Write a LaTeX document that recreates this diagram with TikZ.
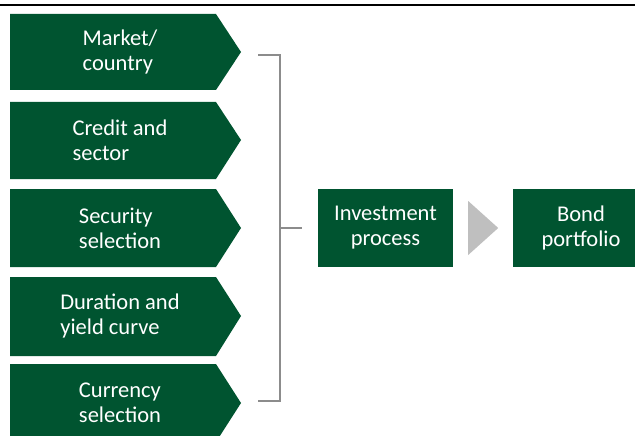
\documentclass[tikz,border=0pt]{standalone}
\usepackage{fontspec}
\setmainfont{Carlito}
\usetikzlibrary{calc,positioning}
\definecolor{bondgreen}{RGB}{0,84,48}
\definecolor{bracketgray}{RGB}{140,140,140}
\definecolor{arrowgray}{RGB}{191,191,191}

\begin{document}
\begin{tikzpicture}[x=1pt,y=-1pt,
  chevtext/.style={text=white,font=\fontsize{22.5}{25}\selectfont,align=left,inner sep=0pt},
  greenbox/.style={fill=bondgreen,text=white,font=\fontsize{22.5}{25}\selectfont,align=center,
    minimum width=135pt,minimum height=78pt,inner sep=0pt}]

\useasboundingbox (0,0) rectangle (635,436);

\draw[black,line width=2pt] (0,5) -- (635,5);

% input chevrons
\fill[bondgreen] (10,14) -- (216,14) -- (241,52) -- (216,90) -- (10,90) -- cycle;
\fill[bondgreen] (10,102) -- (216,102) -- (241,140) -- (216,179) -- (10,179) -- cycle;
\fill[bondgreen] (10,189) -- (216,189) -- (241,228) -- (216,267) -- (10,267) -- cycle;
\fill[bondgreen] (10,277) -- (216,277) -- (241,316) -- (216,356) -- (10,356) -- cycle;
\fill[bondgreen] (10,364) -- (216,364) -- (241,403) -- (216,442) -- (10,442) -- cycle;

\node[chevtext] (market) at (120,52) {Market/\\country};
\node[chevtext] (credit) at (120,140) {Credit and\\sector};
\node[chevtext] (security) at (120,228) {Security\\selection};
\node[chevtext] (duration) at (120,316) {Duration and\\yield curve};
\node[chevtext] (currency) at (120,403) {Currency\\selection};

% bracket
\coordinate (brktop) at (280,55);
\coordinate (brkbot) at (280,401);
\coordinate (brkmid) at (280,228);
\draw[bracketgray,line width=1.5pt] ($(brktop)+(-22,0)$) -- (brktop) -- (brkbot) -- ($(brkbot)+(-22,0)$);

% process and result
\node[greenbox] (invest) at (385.5,228) {Investment\\process};
\node[greenbox,minimum width=136pt] (bond) at (581,228) {Bond\\portfolio};

\draw[bracketgray,line width=1.5pt] (brkmid) -- ([xshift=-16pt]invest.west);
\fill[arrowgray] ([xshift=15pt,yshift=-27pt]invest.east) -- ([xshift=45pt]invest.east) -- ([xshift=15pt,yshift=27pt]invest.east) -- cycle;

\end{tikzpicture}
\end{document}
